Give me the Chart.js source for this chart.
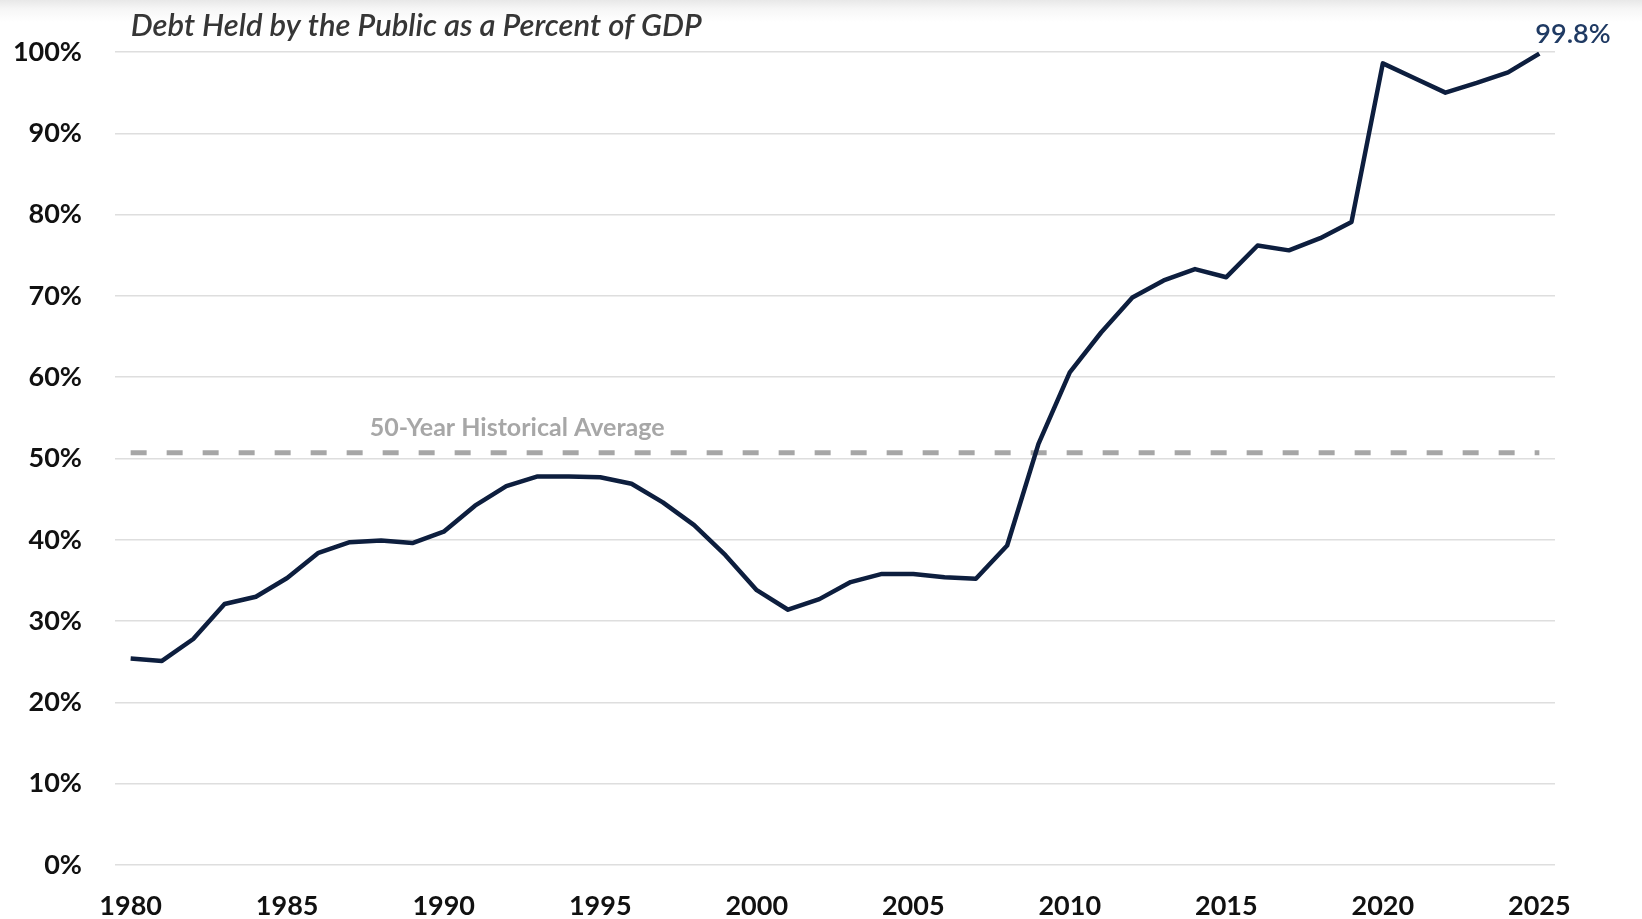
<!DOCTYPE html>
<html>
<head>
<meta charset="utf-8">
<title>Debt Held by the Public as a Percent of GDP</title>
<script src="https://cdn.jsdelivr.net/npm/chart.js@4.4.1/dist/chart.umd.min.js"></script>
<style>
    html, body {
        margin: 0;
        padding: 0;
        overflow: hidden;
        background: linear-gradient(to bottom, #e8e8e8 0px, #f6f6f6 9px, #ffffff 22px);
    }
    #wrap {
        position: relative;
        width: 1642px;
        height: 919px;
    }
</style>
</head>
<body>
<div id="wrap"><canvas id="debtChart"></canvas></div>
<script>
// Federal debt held by the public, % of GDP, fiscal years 1980-2025
const years = [];
for (let y = 1980; y <= 2025; y++) years.push(String(y));

const debtPct = [
    25.4, 25.1, 27.8, 32.1, 33.0, 35.3, 38.4, 39.7, 39.9, 39.6,
    41.0, 44.2, 46.6, 47.8, 47.8, 47.7, 46.9, 44.6, 41.8, 38.1,
    33.8, 31.4, 32.7, 34.8, 35.8, 35.8, 35.4, 35.2, 39.3, 51.8,
    60.6, 65.5, 69.8, 71.9, 73.3, 72.3, 76.2, 75.6, 77.1, 79.1,
    98.6, 96.8, 95.0, 96.2, 97.5, 99.8
];

const historicalAvg = 50.7;
const avgLine = years.map(() => historicalAvg);

const chartTitle = 'Debt Held by the Public as a Percent of GDP';
const avgLabel = '50-Year Historical Average';

// title, end-of-line value and average caption drawn on the canvas
const textLayer = {
    id: 'textLayer',
    afterDatasetsDraw(chart) {
        const { ctx, scales: { x, y } } = chart;
        ctx.save();
        ctx.textBaseline = 'middle';
        ctx.textAlign = 'left';

        ctx.font = 'italic 600 31px Lato';
        ctx.fillStyle = '#363636';
        ctx.fillText(chartTitle, x.getPixelForValue(0), 26);

        const last = debtPct.length - 1;
        const lx = x.getPixelForValue(last);
        const ly = y.getPixelForValue(debtPct[last]);
        ctx.font = '600 27px Lato';
        ctx.fillStyle = '#1f3a63';
        ctx.fillText(debtPct[last].toFixed(1) + '%', lx - 4, ly - 19);

        ctx.font = 'bold 25px Lato';
        ctx.fillStyle = '#a7a7a7';
        ctx.fillText(avgLabel, x.getPixelForValue(0) + 239, y.getPixelForValue(historicalAvg) - 25);

        ctx.restore();
    }
};

const ctx = document.getElementById('debtChart').getContext('2d');
new Chart(ctx, {
    type: 'line',
    data: {
        labels: years,
        datasets: [
            {
                label: 'Debt Held by the Public',
                data: debtPct,
                borderColor: '#0d1e3e',
                borderWidth: 4.5,
                borderJoinStyle: 'round',
                pointRadius: 0,
                tension: 0,
                fill: false,
                order: 1
            },
            {
                label: avgLabel,
                data: avgLine,
                borderColor: '#a6a6a6',
                borderWidth: 5,
                borderDash: [16, 20],
                pointRadius: 0,
                tension: 0,
                fill: false,
                order: 2
            }
        ]
    },
    options: {
        responsive: true,
        maintainAspectRatio: false,
        animation: false,
        layout: { padding: { top: 52, right: 87, left: 0, bottom: 0 } },
        plugins: {
            legend: { display: false },
            tooltip: { enabled: false }
        },
        scales: {
            x: {
                offset: true,
                grid: { display: false, drawTicks: false },
                border: { display: false },
                ticks: {
                    autoSkip: false,
                    maxRotation: 0,
                    padding: 28,
                    color: '#111',
                    font: { family: 'Lato', size: 27, weight: 'bold', lineHeight: 1 },
                    callback: function (v, i) {
                        const yr = years[i];
                        return Number(yr) % 5 === 0 ? yr : '';
                    }
                },
                afterFit: (s) => { s.height = 54; }
            },
            y: {
                min: 0,
                max: 100,
                grid: { color: '#dedede', lineWidth: 1.5, drawTicks: false },
                border: { display: false },
                ticks: {
                    stepSize: 10,
                    padding: 33,
                    color: '#111',
                    font: { family: 'Lato', size: 27, weight: 'bold' },
                    callback: (v) => v + '%'
                },
                afterFit: (s) => { s.width = 115; }
            }
        }
    },
    plugins: [textLayer]
});
</script>
</body>
</html>
